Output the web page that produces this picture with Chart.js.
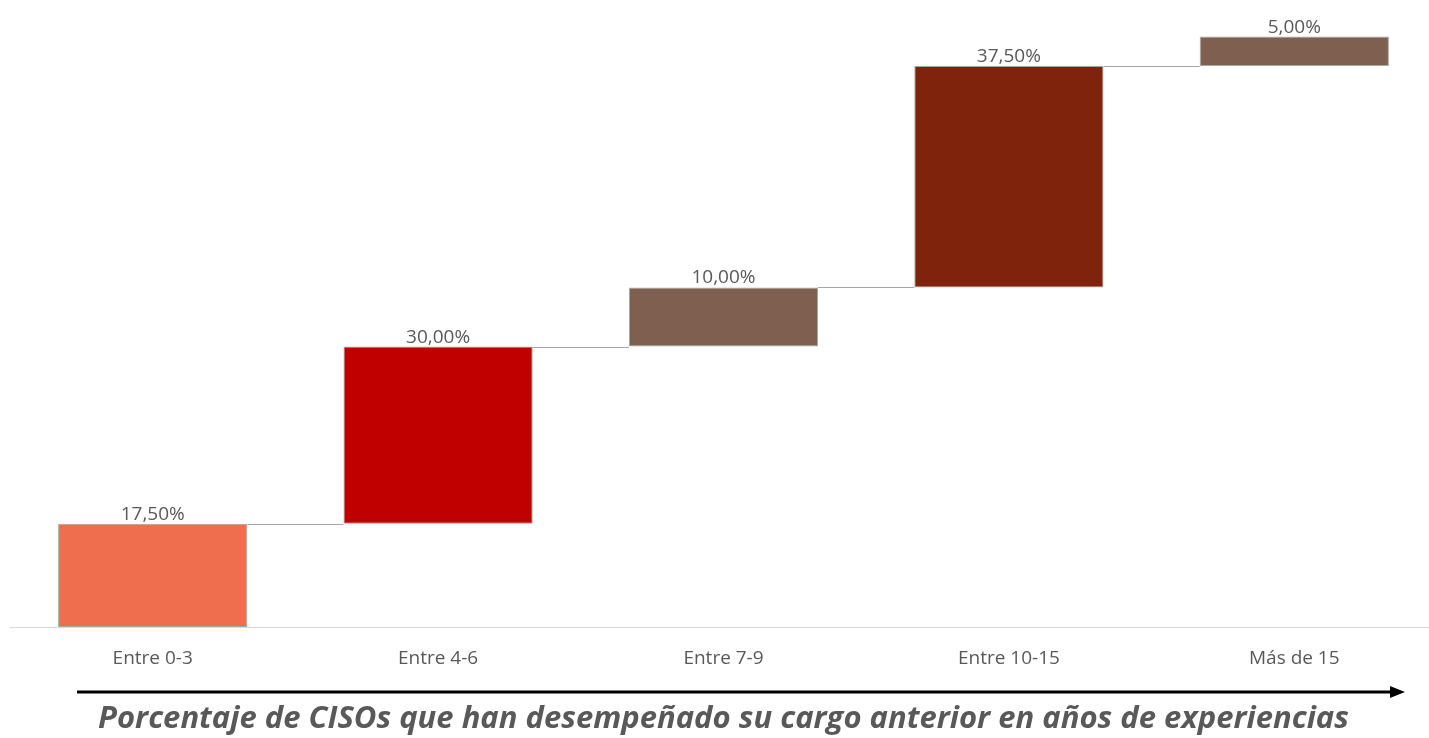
<!DOCTYPE html>
<html>
<head>
<meta charset="utf-8">
<script src="https://cdn.jsdelivr.net/npm/chart.js@4.4.1/dist/chart.umd.min.js"></script>
<style>
  html, body { margin: 0; padding: 0; background: #fff; overflow: hidden; }
  #wrap { width: 1437px; height: 738px; position: relative; }
</style>
</head>
<body>
<div id="wrap"><canvas id="chart"></canvas></div>
<script>
const categories = ['Entre 0-3', 'Entre 4-6', 'Entre 7-9', 'Entre 10-15', 'Más de 15'];
const values = [17.5, 30, 10, 37.5, 5];
const barColors = ['#EE6E4D', '#C00000', '#7F6050', '#7F230D', '#7F6050'];
const titleText = 'Porcentaje de CISOs que han desempeñado su cargo anterior en años de experiencias';

// waterfall: each bar floats from the running total to the next one
const floating = [];
let total = 0;
values.forEach(v => {
    floating.push([total, total + v]);
    total += v;
});

const fmt = v => v.toFixed(2).replace('.', ',') + '%';

const waterfallExtras = {
    id: 'waterfallExtras',
    afterDatasetsDraw(chart) {
        const ctx = chart.ctx;
        const meta = chart.getDatasetMeta(0);
        const y = chart.scales.y;
        ctx.save();
        // connector lines between bars
        ctx.strokeStyle = '#a6a6a6';
        ctx.lineWidth = 1;
        for (let i = 0; i < meta.data.length - 1; i++) {
            const a = meta.data[i], b = meta.data[i + 1];
            const yy = Math.round(y.getPixelForValue(floating[i][1])) + 0.5;
            ctx.beginPath();
            ctx.moveTo(a.x + a.width / 2, yy);
            ctx.lineTo(b.x - b.width / 2, yy);
            ctx.stroke();
        }
        // value labels
        ctx.fillStyle = '#595959';
        ctx.font = '19px "Open Sans", sans-serif';
        ctx.textAlign = 'center';
        ctx.textBaseline = 'alphabetic';
        meta.data.forEach((bar, i) => {
            const top = y.getPixelForValue(floating[i][1]);
            ctx.fillText(fmt(values[i]), bar.x, top - 4);
        });
        // arrow under the axis
        const ay = 692;
        ctx.strokeStyle = '#000';
        ctx.lineWidth = 3;
        ctx.beginPath();
        ctx.moveTo(77, ay);
        ctx.lineTo(1392, ay);
        ctx.stroke();
        ctx.fillStyle = '#000';
        ctx.beginPath();
        ctx.moveTo(1405, ay);
        ctx.lineTo(1390, ay - 6);
        ctx.lineTo(1390, ay + 6);
        ctx.closePath();
        ctx.fill();
        ctx.restore();
    }
};

new Chart(document.getElementById('chart'), {
    type: 'bar',
    data: {
        labels: categories,
        datasets: [{
            data: floating,
            backgroundColor: barColors,
            borderColor: '#a6a6a6',
            borderWidth: 1,
            borderSkipped: false,
            categoryPercentage: 1,
            barPercentage: 0.663
        }]
    },
    options: {
        responsive: true,
        maintainAspectRatio: false,
        animation: false,
        layout: { padding: { top: 7, left: 10, right: 0, bottom: 0 } },
        plugins: {
            legend: { display: false },
            tooltip: { enabled: false },
            title: {
                display: true,
                position: 'bottom',
                text: titleText,
                color: '#595959',
                font: { family: '"Open Sans", sans-serif', size: 31, weight: 'bold', style: 'italic' },
                padding: { top: 19, bottom: 0 }
            }
        },
        scales: {
            x: {
                grid: { display: false },
                border: { display: true, color: '#d9d9d9', width: 1 },
                ticks: { color: '#595959', font: { family: '"Open Sans", sans-serif', size: 19 }, padding: 12 }
            },
            y: {
                display: false,
                min: 0,
                max: 105
            }
        }
    },
    plugins: [waterfallExtras]
});
</script>
</body>
</html>
